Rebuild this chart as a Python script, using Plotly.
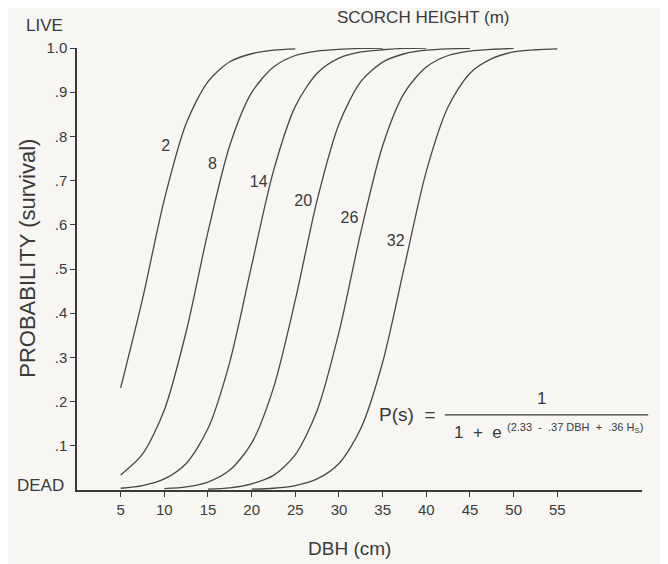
import plotly.graph_objects as go

# Scorch heights (m) and curve values
heights = [2, 8, 14, 20, 26, 32]

dbh_2 = [5, 7.5, 10, 12.5, 15, 17.5, 20, 22.5, 25]
p_2 = [0.231, 0.432, 0.657, 0.829, 0.924, 0.969, 0.987, 0.995, 0.998]

dbh_8 = [5, 7.5, 10, 12.5, 15, 17.5, 20, 22.5, 25, 27.5, 30, 32.5, 35]
p_8 = [0.034, 0.081, 0.181, 0.358, 0.584, 0.780, 0.899, 0.957, 0.983, 0.993, 0.997, 0.999, 1.0]

dbh_14 = [5, 7.5, 10, 12.5, 15, 17.5, 20, 22.5, 25, 27.5, 30, 32.5, 35, 37.5, 40]
p_14 = [0.004, 0.010, 0.025, 0.060, 0.139, 0.290, 0.508, 0.722, 0.868, 0.943, 0.977, 0.991, 0.996, 0.999, 1.0]

dbh_20 = [10, 12.5, 15, 17.5, 20, 22.5, 25, 27.5, 30, 32.5, 35, 37.5, 40, 42.5, 45]
p_20 = [0.003, 0.007, 0.018, 0.045, 0.106, 0.231, 0.430, 0.656, 0.828, 0.924, 0.968, 0.987, 0.995, 0.998, 0.999]

dbh_26 = [15, 17.5, 20, 22.5, 25, 27.5, 30, 32.5, 35, 37.5, 40, 42.5, 45, 47.5, 50]
p_26 = [0.002, 0.005, 0.014, 0.033, 0.080, 0.180, 0.357, 0.583, 0.779, 0.899, 0.957, 0.983, 0.993, 0.997, 0.999]

dbh_32 = [20, 22.5, 25, 27.5, 30, 32.5, 35, 37.5, 40, 42.5, 45, 47.5, 50, 52.5, 55]
p_32 = [0.002, 0.004, 0.010, 0.025, 0.060, 0.139, 0.289, 0.506, 0.721, 0.867, 0.943, 0.976, 0.991, 0.996, 0.998]

# curve label positions (DBH, P)
label_x = [10.15, 15.5, 20.8, 25.9, 31.2, 36.5]
label_y = [0.776, 0.735, 0.695, 0.652, 0.613, 0.561]

x_ticks = [5, 10, 15, 20, 25, 30, 35, 40, 45, 50, 55]
y_ticks = [0.1, 0.2, 0.3, 0.4, 0.5, 0.6, 0.7, 0.8, 0.9, 1.0]
y_tick_text = [".1", ".2", ".3", ".4", ".5", ".6", ".7", ".8", ".9", "1.0"]

series = [(dbh_2, p_2), (dbh_8, p_8), (dbh_14, p_14), (dbh_20, p_20), (dbh_26, p_26), (dbh_32, p_32)]

FONT = "Liberation Sans, Arial, Helvetica, sans-serif"
INK = "#3a3a3a"

fig = go.Figure()
for h, (xs, ys) in zip(heights, series):
    fig.add_trace(go.Scatter(x=xs, y=ys, mode="lines", name=str(h),
                             line=dict(color="#474747", width=1.3, shape="spline", smoothing=0.8),
                             showlegend=False, hoverinfo="skip"))

fig.add_trace(go.Scatter(x=label_x, y=label_y, mode="text",
                         text=[str(h) for h in heights],
                         textfont=dict(family=FONT, size=16, color=INK),
                         showlegend=False, hoverinfo="skip"))


def ann(text, x, y, size, xanchor="center", **kw):
    return dict(text=text, x=x, y=y, xref="paper", yref="paper", xanchor=xanchor,
                yanchor="middle", showarrow=False,
                font=dict(family=FONT, size=size, color=INK), **kw)


annotations = [
    ann("SCORCH HEIGHT (m)", 0.614, 1.068, 17),
    ann("LIVE", -0.057, 1.052, 17),
    ann("DEAD", -0.064, 0.011, 17),
    ann("DBH (cm)", 0.483, -0.133, 19),
    ann("PROBABILITY (survival)", -0.087, 0.525, 22, textangle=-90),
    ann("P(s)  =", 0.637, 0.170, 19, xanchor="right"),
    ann("1", 0.823, 0.208, 17),
    ann("1  +  e", 0.664, 0.131, 17, xanchor="left"),
    ann("(2.33  -  .37 DBH  +  .36 H<sub>S</sub>)", 0.758, 0.140, 11, xanchor="left"),
]

fig.update_layout(
    width=660, height=556,
    margin=dict(l=69, r=26, t=40, b=74),
    paper_bgcolor="#f7f6f2", plot_bgcolor="#f7f6f2",
    annotations=annotations,
    shapes=[dict(type="line", xref="paper", yref="paper", x0=0.651, x1=1.011, y0=0.170, y1=0.170,
                 line=dict(color=INK, width=1.2))],
    font=dict(family=FONT, color=INK),
)
fig.update_xaxes(range=[0, 64.7], tickvals=x_ticks, ticktext=[str(v) for v in x_ticks],
                 showgrid=False, zeroline=False, showline=True, linecolor=INK, linewidth=1.5,
                 ticks="outside", ticklen=5, tickcolor=INK, tickfont=dict(family=FONT, size=15, color=INK))
fig.update_yaxes(range=[0, 1.0], tickvals=y_ticks, ticktext=y_tick_text,
                 showgrid=False, zeroline=False, showline=True, linecolor=INK, linewidth=1.5,
                 ticks="outside", ticklen=5, tickcolor=INK, tickfont=dict(family=FONT, size=15, color=INK))

fig.write_html("out.html")
